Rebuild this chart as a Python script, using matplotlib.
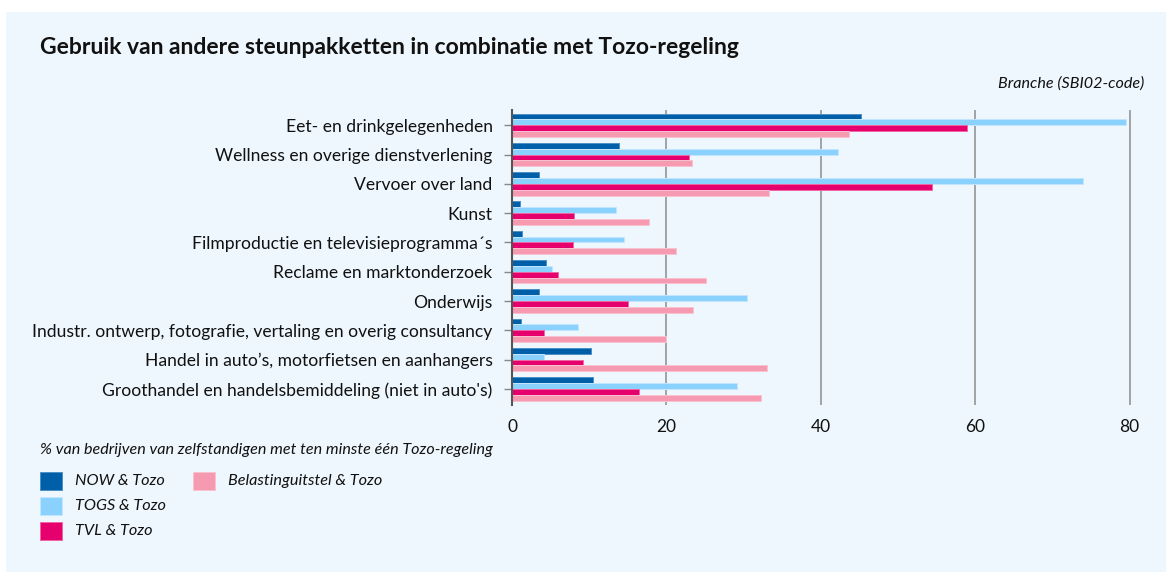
import numpy as np
import matplotlib
matplotlib.use("Agg")
import matplotlib.pyplot as plt
from matplotlib.patches import Rectangle

plt.rcParams["font.family"] = ["Lato", "DejaVu Sans"]

CATEGORIES = [
    "Eet- en drinkgelegenheden",
    "Wellness en overige dienstverlening",
    "Vervoer over land",
    "Kunst",
    "Filmproductie en televisieprogramma\u00b4s",
    "Reclame en marktonderzoek",
    "Onderwijs",
    "Industr. ontwerp, fotografie, vertaling en overig consultancy",
    "Handel in auto\u2019s, motorfietsen en aanhangers",
    "Groothandel en handelsbemiddeling (niet in auto's)",
]
NOW = [45.2, 13.9, 3.5, 1.0, 1.3, 4.4, 3.5, 1.2, 10.2, 10.5]
TOGS = [79.5, 42.2, 74.0, 13.5, 14.5, 5.2, 30.4, 8.6, 4.2, 29.2]
TVL = [58.9, 22.9, 54.4, 8.0, 7.9, 6.0, 15.0, 4.1, 9.2, 16.5]
BELASTING = [43.7, 23.3, 33.3, 17.7, 21.3, 25.1, 23.5, 19.9, 33.0, 32.2]
SERIES_NAMES = ["NOW & Tozo", "TOGS & Tozo", "TVL & Tozo", "Belastinguitstel & Tozo"]
XTICKS = [0, 20, 40, 60, 80]

COLORS = ["#005fa9", "#8bd1fd", "#e5006d", "#f59ab1"]
EDGES = ["#4d8fc4", "#c2e6fd", "#ef66a3", "#f9c2d0"]
BG = "#eef7fd"

W, H = 1166, 572
fig = plt.figure(figsize=(W / 100, H / 100), dpi=100, facecolor="white")
fig.patches.append(Rectangle((6 / W, 0), 1 - 6 / W, 1 - 12 / H, transform=fig.transFigure,
                             facecolor=BG, edgecolor="none", zorder=-10))

ax = fig.add_axes([512 / W, 167 / H, 633 / W, 295 / H])
ax.set_facecolor("none")

y = np.arange(len(CATEGORIES))
h = 0.2
for i, (vals, name) in enumerate(zip([NOW, TOGS, TVL, BELASTING], SERIES_NAMES)):
    ax.barh(y + (i - 1.5) * h, vals, height=h, color=COLORS[i], edgecolor=EDGES[i],
            linewidth=0.7, label=name, zorder=3)

ax.set_xlim(0, 82)
ax.set_ylim(len(CATEGORIES) - 0.45, -0.52)
ax.set_yticks(y)
ax.set_yticklabels(CATEGORIES, fontsize=12.6, color="#111111")
ax.set_xticks(XTICKS)
ax.set_xticklabels([str(t) for t in XTICKS], fontsize=12.5, color="#111111")
for t in XTICKS[1:]:
    ax.axvline(t, color="#8c8c8c", linewidth=1.1, zorder=1)

for s in ["top", "right", "bottom"]:
    ax.spines[s].set_visible(False)
ax.spines["left"].set_color("#555555")
ax.spines["left"].set_linewidth(1.5)
ax.spines["left"].set_zorder(4)
ax.tick_params(axis="y", length=6, width=1, color="#888888", pad=8)
ax.tick_params(axis="x", length=0, pad=10)

fig.text(40 / W, 1 - 48 / H, "Gebruik van andere steunpakketten in combinatie met Tozo-regeling",
         fontsize=16.5, fontweight="bold", va="center", ha="left", color="#111111")
fig.text(1144 / W, 1 - 84 / H, "Branche (SBI02-code)", fontsize=11.6, style="italic",
         va="center", ha="right", color="#111111")
fig.text(40 / W, 1 - 450 / H, "% van bedrijven van zelfstandigen met ten minste \u00e9\u00e9n Tozo-regeling",
         fontsize=11.6, style="italic", va="center", ha="left", color="#111111")

# legend, drawn by hand: three entries in the first column, one in the second
legend_pos = [(40, 481), (40, 506), (40, 531), (193, 481)]
for i, (lx, ly) in enumerate(legend_pos):
    fig.patches.append(Rectangle((lx / W, 1 - (ly + 9) / H), 22 / W, 18 / H,
                                 transform=fig.transFigure, facecolor=COLORS[i],
                                 edgecolor=EDGES[i], linewidth=0.7))
    fig.text((lx + 35) / W, 1 - ly / H, SERIES_NAMES[i], fontsize=11.7, style="italic",
             va="center", ha="left", color="#111111")

fig.savefig("out.png", dpi=100, facecolor="white")
